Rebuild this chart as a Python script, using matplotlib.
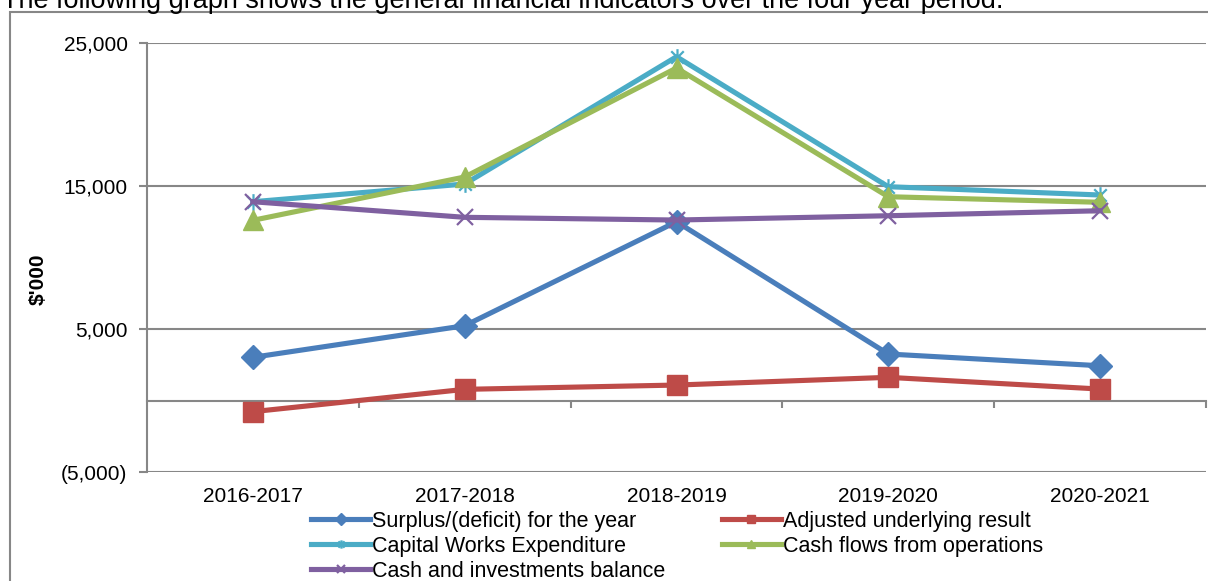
import matplotlib
matplotlib.use("Agg")
import matplotlib.pyplot as plt
from matplotlib.path import Path
from matplotlib.patches import Rectangle
import matplotlib.transforms as mtransforms

plt.rcParams['font.family'] = ['Liberation Sans', 'DejaVu Sans']

categories = ['2016-2017', '2017-2018', '2018-2019', '2019-2020', '2020-2021']
surplus = [3020, 5230, 12500, 3250, 2430]
adjusted = [-780, 780, 1080, 1620, 800]
capital_works = [13900, 15140, 24040, 14950, 14370]
cash_flows = [12600, 15630, 23250, 14250, 13860]
cash_invest = [13900, 12810, 12620, 12920, 13270]

series_names = ['Surplus/(deficit) for the year', 'Adjusted underlying result',
                'Capital Works Expenditure', 'Cash flows from operations',
                'Cash and investments balance']
y_ticks = [-5000, 5000, 15000, 25000]
y_tick_labels = ['(5,000)', '5,000', '15,000', '25,000']
title_text = 'The following graph shows the general financial indicators over the four year period.'

star = Path([(0, -1), (0, 1), (-0.75, -0.75), (0.75, 0.75), (-0.75, 0.75), (0.75, -0.75)],
            [Path.MOVETO, Path.LINETO, Path.MOVETO, Path.LINETO, Path.MOVETO, Path.LINETO])

W, H = 1208, 581
fig = plt.figure(figsize=(W / 100, H / 100), dpi=100)
grey = '#878787'

# outer frame
fig.patches.append(Rectangle((10 / W, -0.1), 1.2, 1 - 12 / H + 0.1, transform=fig.transFigure,
                             fill=False, edgecolor=grey, linewidth=1.5, zorder=0))
fig.text(0.002, 1 - 7.5 / H, title_text, fontsize=19.45, va='baseline', ha='left', color='black')

ax = fig.add_axes([147 / W, 1 - 472 / H, (1206 - 147) / W, (472 - 43) / H])
x = list(range(len(categories)))

styles = [
    dict(color='#4A7EBB', marker='D', markersize=12),
    dict(color='#BE4B48', marker='s', markersize=14),
    dict(color='#4BACC6', marker=star, markersize=12, markeredgewidth=1.6),
    dict(color='#9BBB59', marker='^', markersize=15),
    dict(color='#7F60A0', marker='x', markersize=12, markeredgewidth=1.6),
]
data = [surplus, adjusted, capital_works, cash_flows, cash_invest]
lines = []
for vals, name, st in zip(data, series_names, styles):
    ln, = ax.plot(x, vals, linewidth=3.7, label=name, zorder=3, **st)
    lines.append(ln)

ax.set_xlim(-0.5, len(categories) - 0.5)
ax.set_ylim(-5000, 25000)
ax.set_yticks(y_ticks)
ax.set_yticklabels(y_tick_labels, fontsize=15)
ax.yaxis.grid(True, color=grey, linewidth=1.5)
ax.set_axisbelow(True)
ax.tick_params(axis='y', length=6, width=1.5, color=grey, pad=8)

for s in ['top', 'right']:
    ax.spines[s].set_visible(False)
ax.spines['left'].set_color(grey)
ax.spines['left'].set_linewidth(1.5)
ax.spines['bottom'].set_position(('data', 0))
ax.spines['bottom'].set_color(grey)
ax.spines['bottom'].set_linewidth(1.5)
ax.set_xticks([i + 0.5 for i in x])
ax.set_xticklabels([])
ax.tick_params(axis='x', length=5, width=1.5, color=grey, direction='out')

trans = mtransforms.blended_transform_factory(ax.transData, ax.transAxes)
for i, c in zip(x, categories):
    ax.text(i, -25 / 429, c, transform=trans, ha='center', va='center', fontsize=15)

fig.text(38 / W, 1 - 279 / H, "$'000", rotation=90, fontsize=15, fontweight='bold',
         ha='center', va='center')

order = [0, 2, 4, 1, 3]
leg = fig.legend([lines[i] for i in order], [series_names[i] for i in order],
                 ncol=2, loc='upper left', bbox_to_anchor=(311 / W, 1 - 511 / H),
                 frameon=False, fontsize=15.5, handlelength=2.75, handletextpad=0.1,
                 labelspacing=0.18, columnspacing=2.6, borderpad=0, borderaxespad=0)
for l in leg.get_lines():
    l.set_markersize(6)

fig.savefig('out.png', dpi=100)
